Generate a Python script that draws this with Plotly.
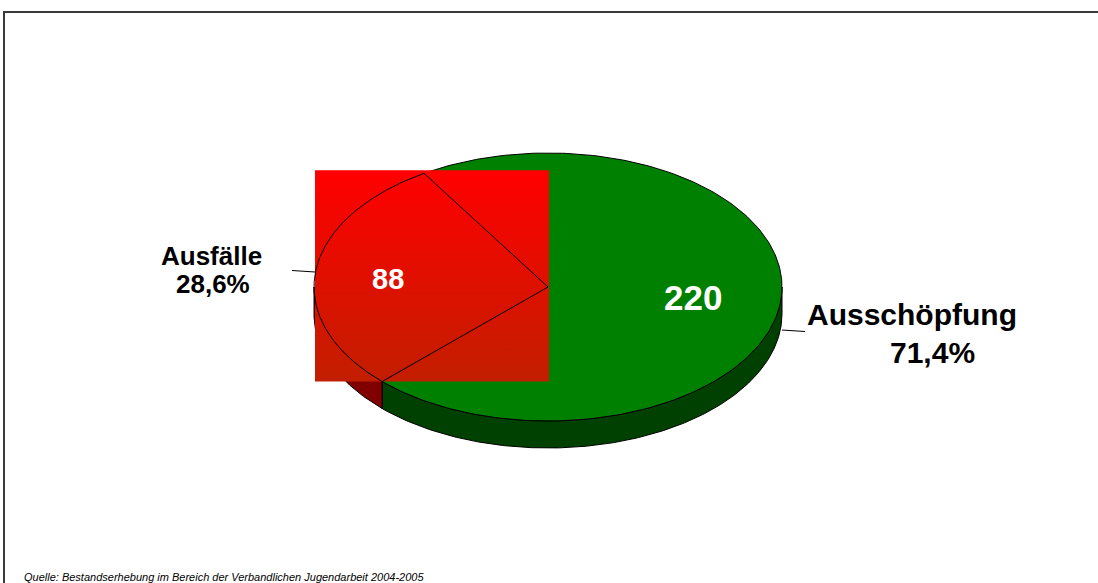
import numpy as np
import plotly.graph_objects as go

# ---- data ----
categories = ["Ausfälle", "Ausschöpfung"]
values = [88, 220]
percent_labels = ["28,6%", "71,4%"]
value_labels = ["88", "220"]
source_text = "Quelle: Bestandserhebung im Bereich der Verbandlichen Jugendarbeit 2004-2005"

# ---- geometry / style ----
W, H = 1098, 583
CX, CY, RX, RY, DEPTH = 548, 287, 234, 134, 27
START = 122.0
TOP_GREEN = "#008000"
SIDE_GREEN = "#004000"
SIDE_RED = "#800000"
FONT = "Liberation Sans, Arial, sans-serif"

total = float(sum(values))
spans = [360.0 * v / total for v in values]
red_a, red_b = START, START + spans[0]
green_a, green_b = red_b, red_b + spans[1]


def arc(a, b, n=240, dy=0.0):
    t = np.radians(np.linspace(a, b, n))
    return CX + RX * np.cos(t), CY - RY * np.sin(t) + dy


def side_poly(a, b):
    # visible front side is between 180 and 360 degrees
    lo, hi = max(a, 180.0), min(b, 360.0)
    if hi <= lo:
        return None
    x1, y1 = arc(lo, hi)
    x2, y2 = arc(hi, lo, dy=DEPTH)
    return np.concatenate([x1, x2, x1[:1]]), np.concatenate([y1, y2, y1[:1]])


fig = go.Figure()

# sides
for (a, b), col in [((green_a, green_b), SIDE_GREEN), ((red_a, red_b), SIDE_RED)]:
    if b > 360:
        pieces = [(a, 360.0), (0.0, b - 360.0)]
    else:
        pieces = [(a, b)]
    for pa, pb in pieces:
        p = side_poly(pa, pb)
        if p is None:
            continue
        fig.add_trace(go.Scatter(x=p[0], y=p[1], mode="lines", fill="toself",
                                 fillcolor=col, line=dict(color="black", width=1),
                                 hoverinfo="skip", showlegend=False))

# green top slice
gx, gy = arc(green_a, green_b)
fig.add_trace(go.Scatter(x=np.concatenate([[CX], gx, [CX]]), y=np.concatenate([[CY], gy, [CY]]),
                         mode="lines", fill="toself", fillcolor=TOP_GREEN,
                         line=dict(color="black", width=1), hoverinfo="skip", showlegend=False))

# red slice: gradient fill over its bounding box, then outline
rx_, ry_ = arc(red_a, red_b)
sx = np.concatenate([[CX], rx_, [CX]])
sy = np.concatenate([[CY], ry_, [CY]])
bx0, bx1 = sx.min() + 1, sx.max() + 1
by0, by1 = sy.min() - 3, sy.max()
fig.add_trace(go.Scatter(x=[bx0, bx1, bx1, bx0, bx0], y=[by0, by0, by1, by1, by0],
                         mode="lines", fill="toself", line=dict(width=0, color="rgba(0,0,0,0)"),
                         fillgradient=dict(type="vertical", start=by1, stop=by0,
                                           colorscale=[[0, "#c21e00"], [1, "#ff0000"]]),
                         hoverinfo="skip", showlegend=False))
fig.add_trace(go.Scatter(x=sx, y=sy, mode="lines", line=dict(color="black", width=1),
                         hoverinfo="skip", showlegend=False))

# leader lines
fig.add_trace(go.Scatter(x=[292, 315], y=[270.5, 272], mode="lines",
                         line=dict(color="black", width=1), hoverinfo="skip", showlegend=False))
fig.add_trace(go.Scatter(x=[782, 805], y=[330, 331.5], mode="lines",
                         line=dict(color="black", width=1), hoverinfo="skip", showlegend=False))

# frame
fig.add_trace(go.Scatter(x=[4, 4, W], y=[H, 12, 12], mode="lines",
                         line=dict(color="#3a3a3a", width=2), hoverinfo="skip", showlegend=False))

ann = []
def txt(x, y, s, size, color="black", bold=True, italic=False, xanchor="center"):
    if bold:
        s = "<b>" + s + "</b>"
    if italic:
        s = "<i>" + s + "</i>"
    ann.append(dict(x=x, y=y, xref="x", yref="y", text=s, showarrow=False,
                    xanchor=xanchor, yanchor="middle",
                    font=dict(family=FONT, size=size, color=color)))

txt(211, 256, categories[0], 26)
txt(213, 284, percent_labels[0], 26)
txt(912, 314, categories[1], 30)
txt(932, 352, percent_labels[1], 30)
txt(388, 278.5, value_labels[0], 29, color="white")
txt(693, 297, value_labels[1], 35, color="white")
txt(22, 577, source_text, 11, bold=False, italic=True, xanchor="left")

fig.update_layout(
    width=W, height=H, margin=dict(l=0, r=0, t=0, b=0),
    paper_bgcolor="white", plot_bgcolor="white", showlegend=False,
    xaxis=dict(range=[0, W], visible=False, fixedrange=True),
    yaxis=dict(range=[H, 0], visible=False, fixedrange=True),
    annotations=ann,
)

fig.write_html("out.html")
